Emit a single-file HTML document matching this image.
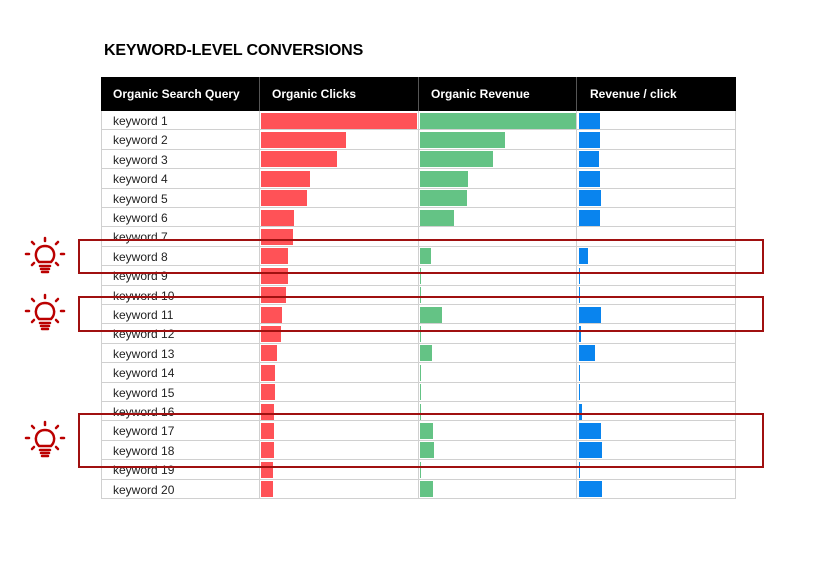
<!DOCTYPE html>
<html><head><style>
body{margin:0;width:832px;height:568px;background:#fff;font-family:"Liberation Sans",sans-serif;position:relative;overflow:hidden}
.t{position:absolute;left:104px;top:42px;font-size:16px;font-weight:bold;color:#000;letter-spacing:-0.15px}
.hd{position:absolute;top:77px;height:34px;background:#000;color:#fff;font-size:12px;font-weight:bold;line-height:34px}
.cell{position:absolute;font-size:12px;color:#222}
.ln{position:absolute;background:#d0d0d0}
.bar{position:absolute}
.box{position:absolute;left:78px;width:682px;border:2px solid #a01010}
</style></head><body>
<div class="t">KEYWORD-LEVEL CONVERSIONS</div>
<div class="hd" style="left:101px;width:635px"></div>
<div class="hd" style="left:113px">Organic Search Query</div>
<div class="hd" style="left:272px">Organic Clicks</div>
<div class="hd" style="left:431px">Organic Revenue</div>
<div class="hd" style="left:590px">Revenue / click</div>
<div class="ln" style="left:259px;top:77px;width:1px;height:34px;background:#555"></div>
<div class="ln" style="left:418px;top:77px;width:1px;height:34px;background:#555"></div>
<div class="ln" style="left:576px;top:77px;width:1px;height:34px;background:#555"></div>
<div id="rows"></div>
<svg style="position:absolute;left:0;top:0" width="832" height="568">
<g id="bulbs" fill="none" stroke="#b00" stroke-width="2.5" stroke-linecap="round"></g>
</svg>
<div class="box" style="top:239px;height:31px"></div>
<div class="box" style="top:296px;height:32px"></div>
<div class="box" style="top:413px;height:51px"></div>
<script>
var R=[156,85,76,49,46,33,32,27,27,25,21,20,16,14,14,13,13,13,12,12];
var G=[156,85,73,48,47,34,0,11,1,1,22,1,12,1,1,1,13,14,1,13];
var B=[21,21,20,21,22,21,0,9,1,1,22,2,16,1,1,3,22,23,1,23];
var h='';var rh=19.4;
for(var i=0;i<20;i++){var y=111+i*rh;
h+='<div class="cell" style="left:113px;top:'+(y+3)+'px">keyword '+(i+1)+'</div>';
h+='<div class="ln" style="left:101px;top:'+(y+rh-1)+'px;width:635px;height:1px"></div>';
h+='<div class="bar" style="left:261px;top:'+(y+1.5)+'px;width:'+R[i]+'px;height:16px;background:#ff5257"></div>';
if(G[i])h+='<div class="bar" style="left:420px;top:'+(y+1.5)+'px;width:'+G[i]+'px;height:16px;background:#64c385"></div>';
if(B[i])h+='<div class="bar" style="left:579px;top:'+(y+1.5)+'px;width:'+B[i]+'px;height:16px;background:#0984ee"></div>';}
[101,259,418,576,735].forEach(function(x){h+='<div class="ln" style="left:'+x+'px;top:111px;width:1px;height:388px"></div>';});
document.getElementById('rows').innerHTML=h;
var s='';[257,314,441].forEach(function(cy){var cx=45;
s+='<path d="M'+(cx-6)+' '+(cy+5)+' C'+(cx-12)+' '+(cy-1)+' '+(cx-9)+' '+(cy-11)+' '+cx+' '+(cy-11)+' C'+(cx+9)+' '+(cy-11)+' '+(cx+12)+' '+(cy-1)+' '+(cx+6)+' '+(cy+5)+' Z"/>';
s+='<path d="M'+(cx-5)+' '+(cy+9)+'h10M'+(cx-4)+' '+(cy+12)+'h8M'+(cx-3)+' '+(cy+15)+'h6"/>';
s+='<path d="M'+cx+' '+(cy-19)+'v3M'+(cx-19)+' '+(cy-3)+'h3M'+(cx+16)+' '+(cy-3)+'h3M'+(cx-13)+' '+(cy-15)+'l2 2M'+(cx+13)+' '+(cy-15)+'l-2 2M'+(cx-13)+' '+(cy+8)+'l2 -2M'+(cx+13)+' '+(cy+8)+'l-2 -2"/>';});
document.getElementById('bulbs').innerHTML=s;
</script>
</body></html>
